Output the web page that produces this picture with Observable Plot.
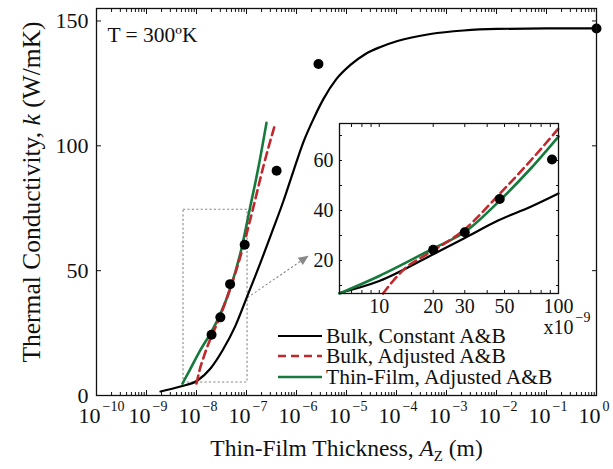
<!DOCTYPE html>
<html><head><meta charset="utf-8">
<script src="https://cdn.jsdelivr.net/npm/d3@7"></script>
<script src="https://cdn.jsdelivr.net/npm/@observablehq/plot@0.6"></script>
<style>
body{margin:0;background:#fff;}
#wrap{position:relative;width:613px;height:469px;font-family:"Liberation Serif",serif;color:#111;}
.leg{position:absolute;left:278px;font-size:21.5px;line-height:20.5px;height:20.5px;white-space:nowrap;}
.leg svg{vertical-align:middle;margin-right:4px;}
.leg span{vertical-align:middle;}
</style></head><body><div id="wrap"></div>
<script>
// ---- data ----
const pointX = [2.0e-8, 3.0e-8, 4.7e-8, 9.2e-8, 4.0e-7, 2.75e-6, 1.0];
const pointK = [24.3, 31.3, 44.6, 60.4, 90, 132.8, 147.0];

const bulkConstX = [1.905e-9, 4.79e-9, 1.047e-8, 1.905e-8, 3.31e-8, 6.03e-8, 1.047e-7, 1.905e-7, 3.31e-7, 5.5e-7, 8.71e-7, 1.38e-6, 2.19e-6, 3.47e-6, 6.31e-6, 1.2e-5, 2.4e-5, 4.79e-5, 1.047e-4, 4.79e-4, 2.19e-3, 1.047e-2, 1e-1, 1];
const bulkConstK = [1.6, 3.6, 6, 10.8, 18, 28, 40, 53.2, 66, 78, 90, 101.6, 110.8, 118.8, 126.8, 132.4, 136.8, 139.6, 142, 144.8, 146.2, 146.8, 147, 147];

const bulkAdjX = [1e-8, 1.148e-8, 1.38e-8, 1.905e-8, 2.63e-8, 4.79e-8, 7.94e-8, 1.318e-7, 2.19e-7, 3.8e-7];
const bulkAdjK = [4.8, 10, 15.2, 22.8, 29.2, 43.2, 57.2, 74, 92, 109.2];

const thinAdjX = [5.25e-9, 7.59e-9, 1.148e-8, 2.0e-8, 3.02e-8, 4.79e-8, 7.59e-8, 1.2e-7, 1.74e-7, 2.51e-7];
const thinAdjK = [4.8, 10.8, 17.6, 25.6, 32.8, 43.2, 57.2, 76, 91.6, 109.2];

// inset (thickness in nm)
const insetBulkConstX = [6, 10, 20, 30, 46, 70, 100];
const insetBulkConstK = [7, 11.8, 22.5, 29, 36, 41.5, 46.8];
const insetBulkAdjX = [10.5, 12, 14, 17, 20, 30, 46, 70, 100];
const insetBulkAdjK = [6.8, 12, 17, 21, 24, 32.5, 46, 60, 72.8];
const insetThinAdjX = [6, 10, 20, 30, 47, 70, 100];
const insetThinAdjK = [6.8, 13.8, 24.8, 31.4, 44, 56.8, 69.6];

// axes / ticks
const xTickExp = [-10, -9, -8, -7, -6, -5, -4, -3, -2, -1, 0];
const yTicks = [0, 50, 100, 150];
const insetXTicks = [10, 20, 30, 50, 100];
const insetXMinor = [7, 8, 9, 40, 60, 70, 80, 90];
const insetYTicks = [20, 40, 60];
const insetYMinor = [10, 30, 50, 70];

const zoomBox = {x1: 5.5e-9, x2: 1.05e-7, y1: 5.2, y2: 74.4};
const zoomArrow = {x1: 1.05e-7, y1: 39.2, x2: 1.74e-6, y2: 56};

const seriesNames = ["Bulk, Constant A&B", "Bulk, Adjusted A&B", "Thin-Film, Adjusted A&B"];
const seriesColors = ["#000000", "#c0282d", "#157a3c"];
const seriesDash = [null, "8,5", null];

// ---- build ----
const font = "'Liberation Serif', 'Times New Roman', serif";
const toRows = (xs, ks) => xs.map((x, i) => ({x, k: ks[i]}));
const xMajor = xTickExp.map(e => 10 ** e);
const xMinor = xTickExp.slice(0, -1).flatMap(e => d3.range(2, 10).map(m => m * 10 ** e));
const supMinus = s => String(s).replace("-", "\u2212");
const yTitle = "Thermal Conductivity, k (W/mK)";
const xTitle = "Thin-Film Thickness, AZ (m)";
// filled arrow head pointing along +x, tip at the origin
const arrowHead = {draw(ctx) { ctx.moveTo(0, 0); ctx.lineTo(-10, -4.5); ctx.lineTo(-10, 4.5); ctx.closePath(); }};

const main = Plot.plot({
  width: 613, height: 469,
  marginLeft: 96, marginRight: 17, marginTop: 8, marginBottom: 74,
  style: {fontFamily: font, fontSize: "22px", color: "#111", background: "white", overflow: "visible"},
  x: {type: "log", domain: [1e-10, 1], axis: null},
  y: {domain: [0, 155], axis: null},
  marks: [
    Plot.rect([zoomBox], {x1: "x1", x2: "x2", y1: "y1", y2: "y2", fill: "none", stroke: "#888", strokeWidth: 1.1, strokeDasharray: "2.2,2.2"}),
    Plot.link([zoomArrow], {x1: "x1", y1: "y1", x2: "x2", y2: "y2", stroke: "#888", strokeWidth: 1.1, strokeDasharray: "2.2,2.2"}),
    Plot.dot([zoomArrow], {x: "x2", y: "y2", symbol: arrowHead, r: 5, fill: "#888", stroke: "none", rotate: -34.5}),
    Plot.line(toRows(bulkConstX, bulkConstK), {x: "x", y: "k", stroke: seriesColors[0], strokeWidth: 2.2, curve: "monotone-x"}),
    Plot.line(toRows(thinAdjX, thinAdjK), {x: "x", y: "k", stroke: seriesColors[2], strokeWidth: 2.6, curve: "monotone-x"}),
    Plot.line(toRows(bulkAdjX, bulkAdjK), {x: "x", y: "k", stroke: seriesColors[1], strokeWidth: 2.6, strokeDasharray: seriesDash[1], curve: "monotone-x"}),
    Plot.dot(toRows(pointX, pointK), {x: "x", y: "k", r: 5, fill: "black", clip: false}),
    Plot.frame({stroke: "#111", strokeWidth: 1.3}),
    Plot.axisX({ticks: xMajor, anchor: "bottom", tickSize: -5, tickFormat: () => "", label: null}),
    Plot.axisX({ticks: xMinor, anchor: "bottom", tickSize: -3, tickFormat: () => "", label: null}),
    Plot.axisX({ticks: xMajor, anchor: "top", tickSize: -5, tickFormat: () => "", label: null}),
    Plot.axisX({ticks: xMinor, anchor: "top", tickSize: -3, tickFormat: () => "", label: null}),
    Plot.axisY({ticks: yTicks, anchor: "left", tickSize: -5, tickFormat: () => "", label: null}),
    Plot.axisY({ticks: yTicks, anchor: "right", tickSize: -5, tickFormat: () => "", label: null}),
    Plot.axisY({ticks: yTicks, anchor: "left", tickSize: 0, tickPadding: 8, fontSize: 22, label: null}),
    Plot.text(xTickExp, {x: e => 10 ** e, frameAnchor: "bottom", lineAnchor: "middle", text: () => "10", dy: 20, dx: 4, textAnchor: "end", fontSize: 22}),
    Plot.text(xTickExp, {x: e => 10 ** e, frameAnchor: "bottom", lineAnchor: "middle", text: e => supMinus(e), dy: 11, dx: 6, textAnchor: "start", fontSize: 14}),
    Plot.text(["T = 300\u00baK"], {frameAnchor: "top-left", lineAnchor: "middle", dx: 11, dy: 26.5, textAnchor: "start", fontSize: 21.5}),
    Plot.text([yTitle], {frameAnchor: "left", textAnchor: "middle", lineAnchor: "middle", dx: -65, dy: -10, rotate: -90, fontSize: 25.5}),
    Plot.text([xTitle], {frameAnchor: "bottom", textAnchor: "middle", lineAnchor: "middle", dy: 53, fontSize: 23.5})
  ]
});

d3.select(main).selectAll("text").each(function() {
  const t = this.textContent;
  if (t === yTitle) {
    this.innerHTML = 'Thermal Conductivity, <tspan font-style="italic">k</tspan> (W/mK)';
  } else if (t === xTitle) {
    this.innerHTML = 'Thin-Film Thickness, <tspan font-style="italic">A</tspan><tspan font-size="15" dy="5">Z</tspan><tspan dy="-5"> (m)</tspan>';
  }
});

const inset = Plot.plot({
  width: 269, height: 216,
  marginLeft: 30, marginRight: 20, marginTop: 1, marginBottom: 45,
  style: {fontFamily: font, fontSize: "20px", color: "#111", background: "transparent", overflow: "visible"},
  x: {type: "log", domain: [6, 100], axis: null},
  y: {domain: [6.8, 74.8], axis: null},
  marks: [
    Plot.frame({fill: "white"}),
    Plot.line(toRows(insetBulkConstX, insetBulkConstK), {x: "x", y: "k", stroke: seriesColors[0], strokeWidth: 2.2, curve: "monotone-x"}),
    Plot.line(toRows(insetThinAdjX, insetThinAdjK), {x: "x", y: "k", stroke: seriesColors[2], strokeWidth: 2.6, curve: "monotone-x"}),
    Plot.line(toRows(insetBulkAdjX, insetBulkAdjK), {x: "x", y: "k", stroke: seriesColors[1], strokeWidth: 2.6, strokeDasharray: seriesDash[1], curve: "monotone-x"}),
    Plot.dot(toRows(pointX.map(v => v * 1e9), pointK).filter(d => d.x <= 100), {x: "x", y: "k", r: 5, fill: "black"}),
    Plot.frame({stroke: "#111", strokeWidth: 1.3}),
    Plot.axisX({ticks: insetXTicks.concat(insetXMinor), anchor: "bottom", tickSize: -3, tickFormat: () => "", label: null}),
    Plot.axisX({ticks: insetXTicks.concat(insetXMinor), anchor: "top", tickSize: -3, tickFormat: () => "", label: null}),
    Plot.axisY({ticks: insetYTicks.concat(insetYMinor), anchor: "left", tickSize: -3, tickFormat: () => "", label: null}),
    Plot.axisY({ticks: insetYTicks.concat(insetYMinor), anchor: "right", tickSize: -3, tickFormat: () => "", label: null}),
    Plot.text(insetXTicks, {x: d => d, frameAnchor: "bottom", lineAnchor: "middle", text: d => String(d), dy: 13, fontSize: 20}),
    Plot.axisY({ticks: insetYTicks, anchor: "left", tickSize: 0, tickPadding: 6, fontSize: 20, label: null}),
    Plot.text(["x10"], {frameAnchor: "bottom-right", lineAnchor: "middle", dx: 15, dy: 34.5, textAnchor: "end", fontSize: 20}),
    Plot.text(["\u22129"], {frameAnchor: "bottom-right", lineAnchor: "middle", dx: 17, dy: 24, textAnchor: "start", fontSize: 14})
  ]
});
inset.style.position = "absolute";
inset.style.left = "309px";
inset.style.top = "122px";

const wrap = document.getElementById("wrap");
main.style.position = "absolute";
main.style.left = "0px";
main.style.top = "0px";
wrap.appendChild(main);
wrap.appendChild(inset);

seriesNames.forEach((name, i) => {
  const row = document.createElement("div");
  row.className = "leg";
  row.style.top = (323.5 + i * 20.5) + "px";
  const dash = seriesDash[i] ? `stroke-dasharray="${seriesDash[i]}"` : "";
  row.innerHTML = `<svg width="44" height="20"><line x1="0" x2="44" y1="10" y2="10" stroke="${seriesColors[i]}" stroke-width="${i === 0 ? 2.2 : 2.6}" ${dash}/></svg>`;
  const span = document.createElement("span");
  span.textContent = name;
  row.appendChild(span);
  wrap.appendChild(row);
});
</script>
</body></html>
